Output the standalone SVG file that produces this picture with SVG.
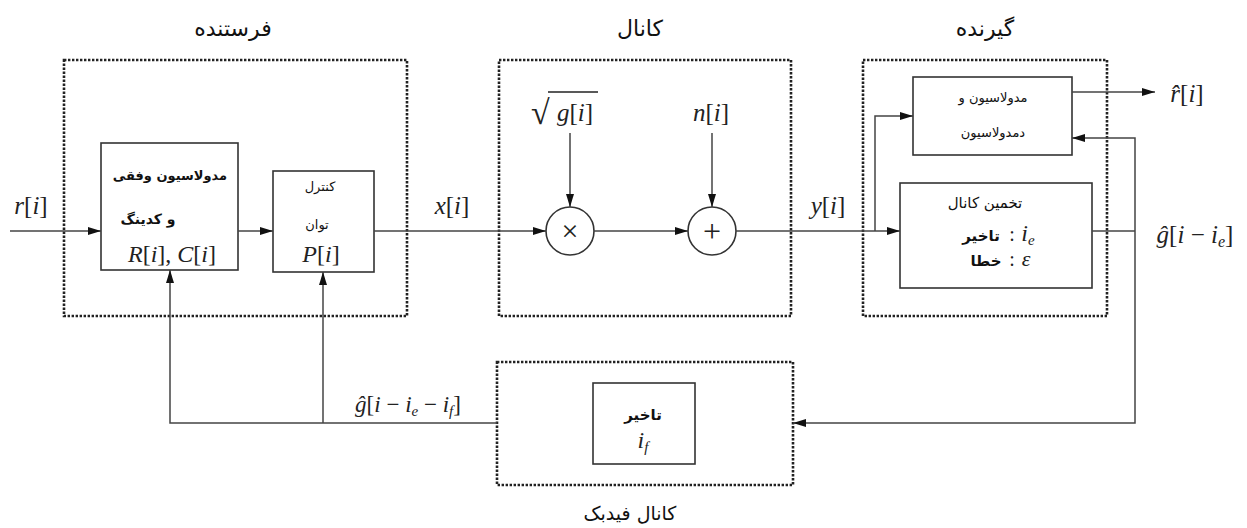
<svg xmlns="http://www.w3.org/2000/svg" width="1247" height="528" viewBox="0 0 1247 528">
<style>
.bg{fill:#ffffff}
.grp{fill:none;stroke:#222;stroke-width:2.6;stroke-dasharray:2.4 1.6}
.box{fill:#fff;stroke:#333;stroke-width:1.6}
.ln{fill:none;stroke:#444;stroke-width:1.5}
.arr{marker-end:url(#ah)}
.fa{font-family:"DejaVu Sans",sans-serif;fill:#111;text-anchor:middle}
.ttl{font-size:22px}
.lb{font-size:15px;font-weight:bold}
.lbs{font-size:13px}
.m{font-family:"Liberation Serif","Times New Roman",serif;font-style:italic;fill:#222;font-size:25px;text-anchor:middle}
.mu{font-family:"Liberation Serif","Times New Roman",serif;font-style:normal;fill:#222}
</style>
<defs>
<marker id="ah" markerWidth="14" markerHeight="8" refX="13" refY="4" orient="auto" markerUnits="userSpaceOnUse">
<path d="M0,0 L13,4 L0,8 z" fill="#111"/>
</marker>
</defs>
<rect class="bg" x="0" y="0" width="1247" height="528"/>

<g id="transmitter">
<rect class="grp" x="64" y="60" width="343" height="256"/>
<text class="fa ttl" x="233" y="36">فرستنده</text>
</g>
<g id="channel">
<rect class="grp" x="499" y="60" width="292" height="256"/>
<text class="fa ttl" x="640" y="36">کانال</text>
</g>
<g id="receiver">
<rect class="grp" x="863" y="60" width="244" height="256"/>
<text class="fa ttl" x="985" y="36">گیرنده</text>
</g>
<g id="feedback-channel">
<rect class="grp" x="497" y="362" width="296" height="123"/>
<text class="fa" x="630" y="520" style="font-size:19px">کانال فیدبک</text>
</g>

<g id="mod-coding">
<rect class="box" x="101" y="143" width="137" height="127"/>
<text class="fa lb" x="170" y="180" style="font-size:13px">مدولاسیون وفقی</text>
<text class="fa lb" x="148" y="224" style="font-size:14px">و کدینگ</text>
<text class="m" x="172" y="262" style="font-size:24px">R<tspan class="mu">[</tspan>i<tspan class="mu">]</tspan><tspan class="mu">, </tspan>C<tspan class="mu">[</tspan>i<tspan class="mu">]</tspan></text>
</g>

<g id="power-control">
<rect class="box" x="273" y="171" width="101" height="101"/>
<text class="fa lbs" x="320" y="191">کنترل</text>
<text class="fa lbs" x="317" y="229">توان</text>
<text class="m" x="321" y="262" style="font-size:24px">P<tspan class="mu">[</tspan>i<tspan class="mu">]</tspan></text>
</g>

<g id="multiplier">
<circle class="box" cx="570" cy="231" r="24"/>
<text class="mu" x="570" y="241" text-anchor="middle" font-size="30">×</text>
</g>
<g id="adder">
<circle class="box" cx="712" cy="231" r="24"/>
<text class="mu" x="712" y="242" text-anchor="middle" font-size="32">+</text>
</g>

<g id="demodulator">
<rect class="box" x="913" y="77" width="159" height="78"/>
<text class="fa lbs" x="993" y="102">مدولاسیون و</text>
<text class="fa lbs" x="993" y="137">دمدولاسیون</text>
</g>

<g id="channel-estimation">
<rect class="box" x="900" y="183" width="192" height="105"/>
<text class="fa" x="985" y="208" style="font-size:15px">تخمین کانال</text>
<text class="fa lb" x="981" y="241">تاخیر</text>
<text class="mu" x="1012" y="241" font-size="20" text-anchor="middle">:</text>
<text class="m" x="1028" y="241" style="font-size:24px">i<tspan dy="4" font-size="15">e</tspan></text>
<text class="fa lb" x="986" y="266">خطا</text>
<text class="mu" x="1012" y="266" font-size="20" text-anchor="middle">:</text>
<text class="m" x="1026" y="266" style="font-size:22px">ε</text>
</g>

<g id="delay">
<rect class="box" x="593" y="383" width="102" height="81"/>
<text class="fa lb" x="643" y="420">تاخیر</text>
<text class="m" x="643" y="448" style="font-size:24px">i<tspan dy="4" font-size="15">f</tspan></text>
</g>

<g id="labels">
<text class="m" x="31" y="214">r<tspan class="mu">[</tspan>i<tspan class="mu">]</tspan></text>
<text class="m" x="452" y="214">x<tspan class="mu">[</tspan>i<tspan class="mu">]</tspan></text>
<text class="m" x="828" y="214">y<tspan class="mu">[</tspan>i<tspan class="mu">]</tspan></text>
<text class="mu" x="531" y="124" font-size="34">√</text>
<line x1="548" y1="92" x2="598" y2="92" stroke="#222" stroke-width="1.4"/>
<text class="m" x="575" y="121">g<tspan class="mu">[</tspan>i<tspan class="mu">]</tspan></text>
<text class="m" x="711" y="121">n<tspan class="mu">[</tspan>i<tspan class="mu">]</tspan></text>
<text class="m" x="1187" y="102">r̂<tspan class="mu">[</tspan>i<tspan class="mu">]</tspan></text>
<text class="m" x="1195" y="243">ĝ<tspan class="mu">[</tspan>i<tspan class="mu"> − </tspan>i<tspan dy="4" font-size="16">e</tspan><tspan class="mu" dy="-4">]</tspan></text>
<text class="m" x="408" y="412" style="font-size:23px">ĝ<tspan class="mu">[</tspan>i<tspan class="mu"> − </tspan>i<tspan dy="4" font-size="15">e</tspan><tspan class="mu" dy="-4"> − </tspan>i<tspan dy="4" font-size="15">f</tspan><tspan class="mu" dy="-4">]</tspan></text>
</g>

<g id="connectors">
<path class="ln arr" d="M10,231 H101"/>
<path class="ln arr" d="M238,231 H273"/>
<path class="ln arr" d="M374,231 H546"/>
<path class="ln arr" d="M594,231 H688"/>
<path class="ln arr" d="M570,133 V207"/>
<path class="ln arr" d="M712,133 V207"/>
<path class="ln arr" d="M736,231 H900"/>
<path class="ln arr" d="M875,231 V116 H913"/>
<path class="ln arr" d="M1072,92 H1155"/>
<path class="ln" d="M1092,231 H1135"/>
<path class="ln arr" d="M1135,231 V423 H793"/>
<path class="ln arr" d="M1135,231 V138 H1072"/>
<path class="ln arr" d="M497,423 H170 V270"/>
<path class="ln arr" d="M323,423 V272"/>
</g>
</svg>
